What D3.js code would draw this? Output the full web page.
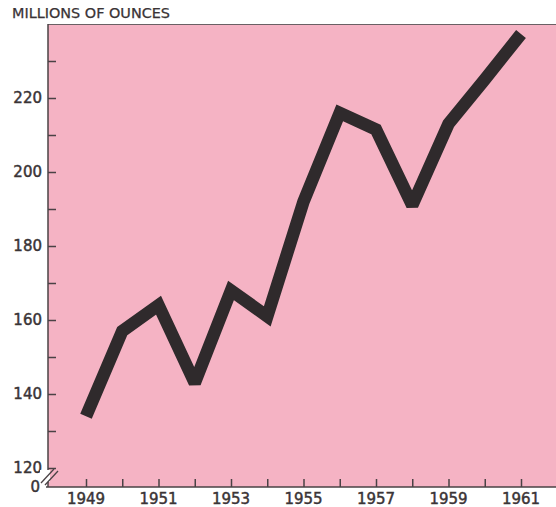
<!DOCTYPE html>
<html><head><meta charset="utf-8">
<script src="https://cdn.jsdelivr.net/npm/d3@7"></script>
<style>
html,body{margin:0;padding:0;background:#fff;}
svg{display:block;}
text{font-family:"DejaVu Sans",sans-serif;fill:#3a3436;}
</style></head>
<body>
<script>
const years = [1949,1950,1951,1952,1953,1954,1955,1956,1957,1958,1959,1960,1961];
const values = [134,157,164,143,168,161,192,216,211.5,191,213,225,237.3];
const yMajorTicks = [120,140,160,180,200,220];
const yMinorTicks = [130,150,170,190,210,230];
const xLabelYears = [1949,1951,1953,1955,1957,1959,1961];
const yTitle = "MILLIONS OF OUNCES";

(function(){
const W = 556, H = 507;
const pLeft = 48, pTop = 24, pBottom = 487;
const svg = d3.select("body").append("svg").attr("width", W).attr("height", H);

const x = d3.scaleLinear().domain([1949,1961]).range([86,521]);
const y = d3.scaleLinear().domain([120,240]).range([468,24]);

svg.append("rect").attr("x", pLeft).attr("y", pTop).attr("width", W-pLeft).attr("height", pBottom-pTop)
  .attr("fill", "#f5b3c4");
svg.append("line").attr("x1", pLeft).attr("x2", W).attr("y1", pTop+0.5).attr("y2", pTop+0.5)
  .attr("stroke", "#6a6064").attr("stroke-width", 1.2);

svg.append("line").attr("x1", pLeft).attr("x2", pLeft).attr("y1", pTop).attr("y2", pBottom)
  .attr("stroke", "#4a4245").attr("stroke-width", 1.5);
svg.append("line").attr("x1", pLeft-2).attr("x2", W).attr("y1", pBottom).attr("y2", pBottom)
  .attr("stroke", "#4a4245").attr("stroke-width", 1.5);

const yAxis = d3.axisRight(y).tickValues(yMajorTicks.concat(yMinorTicks)).tickSize(8).tickFormat("");
const ya = svg.append("g").attr("transform", `translate(${pLeft},0)`).call(yAxis);
ya.select(".domain").remove();
ya.selectAll("line").attr("stroke", "#4a4245").attr("stroke-width", 1.5);

const lbl = sel => sel.attr("font-size", 15).attr("stroke", "#3a3436").attr("stroke-width", 0.45);

svg.append("g").selectAll("text").data(yMajorTicks).join("text")
  .attr("x", 42).attr("y", d => y(d)).attr("dy", "0.36em")
  .attr("text-anchor", "end").call(lbl)
  .text(d => d);

svg.append("text").attr("x", 40).attr("y", pBottom).attr("dy", "0.36em")
  .attr("text-anchor", "end").call(lbl).text("0");
svg.append("rect").attr("x", 40).attr("y", 470).attr("width", 10).attr("height", 12).attr("fill", "#fff");
[[41,483,54,469],[45,485,58,471]].forEach(c => {
  svg.append("line").attr("x1", c[0]).attr("y1", c[1]).attr("x2", c[2]).attr("y2", c[3])
    .attr("stroke", "#4a4245").attr("stroke-width", 1.3);
});

const xAxis = d3.axisTop(x).tickValues(years).tickSize(8).tickFormat("");
const xa = svg.append("g").attr("transform", `translate(0,${pBottom})`).call(xAxis);
xa.select(".domain").remove();
xa.selectAll("line").attr("stroke", "#4a4245").attr("stroke-width", 1.5);

svg.append("g").selectAll("text").data(xLabelYears).join("text")
  .attr("x", d => x(d)).attr("y", 499).attr("dy", "0.36em")
  .attr("text-anchor", "middle").call(lbl)
  .text(d => d);

svg.append("text").attr("x", 12).attr("y", 18).attr("font-size", 13.5)
  .attr("stroke", "#3a3436").attr("stroke-width", 0.25)
  .attr("textLength", 158).attr("lengthAdjust", "spacingAndGlyphs")
  .text(yTitle);

const line = d3.line().x((d,i) => x(years[i])).y(d => y(d));
svg.append("path").datum(values).attr("d", line)
  .attr("fill", "none").attr("stroke", "#2f2a2c").attr("stroke-width", 12.5)
  .attr("stroke-linejoin", "miter").attr("stroke-miterlimit", 2.2).attr("stroke-linecap", "butt");
})();
</script>
</body></html>
